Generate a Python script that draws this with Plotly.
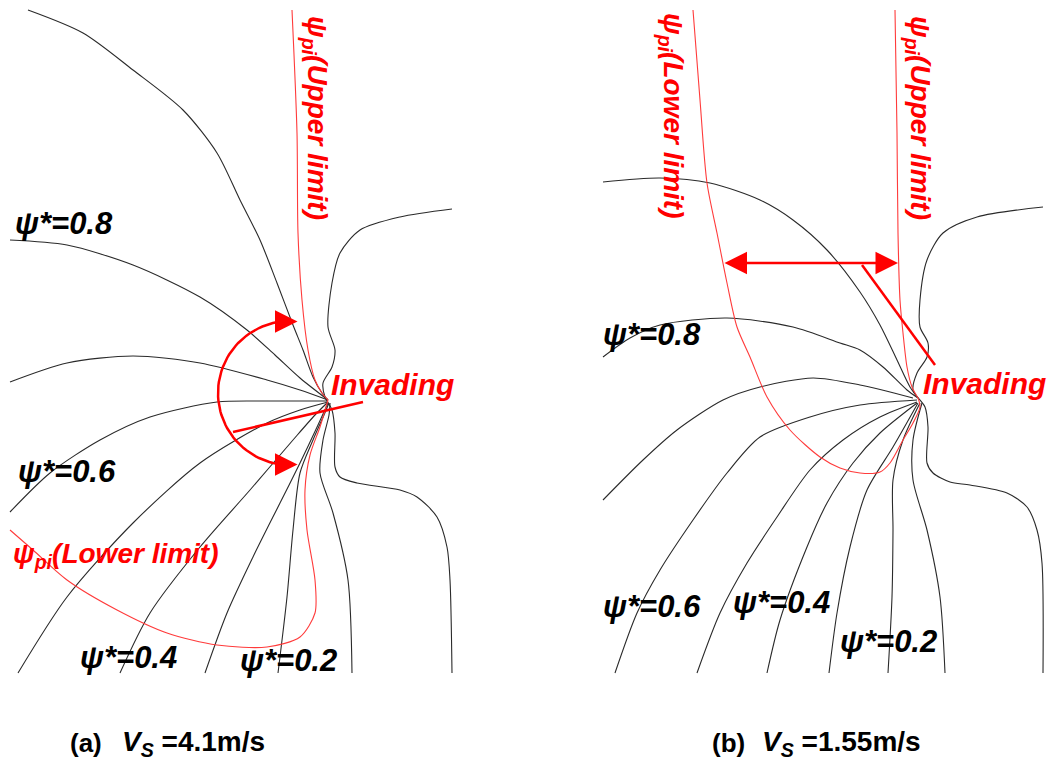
import math
import plotly.graph_objects as go

W, H = 1049, 762

# ---------------- panel (a)  Vs = 4.1 m/s ----------------
outer_a = [(28, 10), (83, 33), (133, 70), (183, 110), (217, 153), (240, 200), (260, 240),
           (277, 283), (293, 325), (303, 350), (313, 377), (322, 393), (328, 400)]
psi08_a = [(10, 240), (67, 245), (133, 265), (200, 297), (247, 330), (275, 355), (300, 378), (328, 400)]
c3_a = [(10, 382), (67, 363), (133, 356), (200, 363), (267, 380), (300, 390), (328, 400)]
c4_a = [(10, 512), (50, 473), (100, 440), (150, 417), (217, 402), (267, 401), (328, 401)]
c5_a = [(18, 673), (67, 597), (133, 523), (200, 463), (267, 423), (300, 410), (328, 402)]
c6_a = [(120, 673), (150, 613), (200, 547), (250, 490), (293, 440), (315, 415), (328, 402)]
c7_a = [(205, 673), (227, 613), (253, 557), (280, 503), (300, 463), (318, 425), (328, 403)]
c8_a = [(278, 673), (287, 597), (293, 530), (300, 473), (313, 440), (324, 415), (329, 403)]
c9_a = [(352, 673), (348, 580), (333, 513), (320, 473), (323, 440), (329, 415), (330, 403)]
wall_a = [(452, 209), (400, 217), (360, 230), (340, 253), (332, 283), (328, 327), (335, 350),
          (332, 367), (323, 383), (325, 397), (332, 410), (335, 433), (335, 467), (340, 477),
          (357, 483), (400, 490), (417, 497), (437, 517), (447, 547), (450, 580), (452, 673)]
upper_a = [(292, 10), (297, 133), (298, 233), (302, 300), (308, 350), (315, 380), (322, 393), (328, 400)]
lower_a = [(328, 400), (320, 427), (310, 455), (305, 490), (307, 530), (315, 580), (315, 613),
           (300, 637), (267, 647), (217, 645), (167, 633), (117, 610), (67, 580), (33, 550), (10, 530)]

# ---------------- panel (b)  Vs = 1.55 m/s ----------------
outer_b = [(603, 182), (660, 178), (710, 183), (760, 200), (793, 220), (827, 250), (860, 292),
           (880, 325), (897, 360), (910, 387), (918, 398)]
psi08_b = [(603, 357), (630, 338), (660, 325), (727, 318), (793, 327), (840, 343), (860, 350),
           (883, 367), (907, 390), (918, 398)]
c3_b = [(603, 500), (643, 460), (677, 430), (723, 400), (760, 387), (813, 378), (860, 385), (913, 398)]
c5_b = [(615, 673), (637, 613), (660, 570), (693, 520), (727, 473), (760, 437), (810, 417),
        (860, 405), (917, 400)]
c6_b = [(697, 673), (720, 613), (747, 563), (777, 517), (810, 470), (843, 440), (880, 417), (917, 402)]
c7_b = [(767, 673), (780, 620), (807, 547), (827, 503), (853, 463), (880, 433), (917, 403)]
c8_b = [(829, 673), (837, 613), (850, 547), (867, 490), (893, 447), (918, 403)]
c9_b = [(888, 673), (892, 597), (893, 530), (893, 480), (903, 440), (920, 403)]
c10_b = [(945, 673), (940, 597), (927, 530), (913, 480), (913, 440), (922, 403)]
wall_b = [(1043, 207), (977, 217), (943, 233), (927, 260), (920, 300), (920, 327), (928, 343),
          (927, 357), (917, 373), (913, 390), (925, 407), (928, 427), (927, 463), (933, 473),
          (950, 482), (970, 485), (1007, 493), (1027, 507), (1037, 530), (1042, 563), (1043, 673)]
lower_b = [(693, 10), (700, 100), (707, 183), (717, 233), (727, 283), (737, 327), (750, 357),
           (767, 397), (790, 430), (820, 457), (840, 468), (860, 473), (880, 472), (890, 463),
           (903, 440), (913, 423), (920, 407), (918, 398)]
upper_b = [(895, 10), (897, 133), (898, 233), (900, 300), (903, 333), (907, 367), (912, 387), (918, 398)]

BLACK_CURVES = [outer_a, psi08_a, c3_a, c4_a, c5_a, c6_a, c7_a, c8_a, c9_a, wall_a,
                outer_b, psi08_b, c3_b, c5_b, c6_b, c7_b, c8_b, c9_b, c10_b, wall_b]
RED_CURVES = [upper_a, lower_a, lower_b, upper_b]

# annotation geometry
arc_a = dict(cx=290, cy=393, r=72, a0=84, a1=276)
pointer_a = [(233, 432), (363, 402)]
pointer_b = [(862, 265), (935, 365)]
span_b = [(723, 263), (898, 263)]

fig = go.Figure()


def add_curve(pts, color, width, smooth=0.8):
    xs, ys = zip(*pts)
    fig.add_trace(go.Scatter(x=xs, y=ys, mode="lines",
                             line=dict(color=color, width=width, shape="spline", smoothing=smooth),
                             hoverinfo="skip", showlegend=False))


for c in BLACK_CURVES:
    add_curve(c, "#2a2a2a", 1.1)
for c in RED_CURVES:
    add_curve(c, "#ff3b3b", 1.1)

# arc of the double arrow in (a)
n = 60
angs = [arc_a["a0"] + 8 + (arc_a["a1"] - arc_a["a0"] - 16) * i / n for i in range(n + 1)]
ax_ = [arc_a["cx"] + arc_a["r"] * math.cos(math.radians(a)) for a in angs]
ay_ = [arc_a["cy"] - arc_a["r"] * math.sin(math.radians(a)) for a in angs]
fig.add_trace(go.Scatter(x=ax_, y=ay_, mode="lines", line=dict(color="red", width=2.5),
                         hoverinfo="skip", showlegend=False))
for pts in (pointer_a, pointer_b):
    xs, ys = zip(*pts)
    fig.add_trace(go.Scatter(x=xs, y=ys, mode="lines", line=dict(color="red", width=2.5),
                             hoverinfo="skip", showlegend=False))

ann = []


def arrow(tip, tail, side="end"):
    ann.append(dict(x=tip[0], y=tip[1], ax=tail[0], ay=tail[1], xref="x", yref="y",
                    axref="x", ayref="y", showarrow=True, arrowhead=2, arrowsize=1.8,
                    arrowwidth=2.5, arrowcolor="red", text="", arrowside=side,
                    standoff=0, startstandoff=0))


def on_arc(a):
    return (arc_a["cx"] + arc_a["r"] * math.cos(math.radians(a)),
            arc_a["cy"] - arc_a["r"] * math.sin(math.radians(a)))


arrow(on_arc(arc_a["a0"]), on_arc(arc_a["a0"] + 12))
arrow(on_arc(arc_a["a1"]), on_arc(arc_a["a1"] - 12))
ann.append(dict(x=span_b[1][0], y=span_b[1][1], ax=span_b[0][0], ay=span_b[0][1], xref="x", yref="y",
                axref="x", ayref="y", showarrow=True, arrowhead=2, startarrowhead=2, arrowsize=1.8,
                startarrowsize=1.8, arrowwidth=2.5, arrowcolor="red", text="", arrowside="end+start",
                standoff=0, startstandoff=0))

FONT = "Liberation Sans, Arial, sans-serif"


def label(x, y, text, color="black", size=31, xanchor="left", angle=0, yanchor="middle"):
    ann.append(dict(x=x, y=y, xref="x", yref="y", text=text, showarrow=False,
                    xanchor=xanchor, yanchor=yanchor, textangle=angle,
                    font=dict(family=FONT, size=size, color=color)))


psi = "<b><i>ψ*=%s</i></b>"
label(13, 223, psi % "0.8")
label(16, 471, psi % "0.6")
label(78, 657, psi % "0.4")
label(238, 660, psi % "0.2")
label(601, 334, psi % "0.8")
label(601, 606, psi % "0.6")
label(731, 602, psi % "0.4")
label(838, 641, psi % "0.2")

label(329, 384, "<b><i>Invading</i></b>", color="red", size=30)
label(921, 383, "<b><i>Invading</i></b>", color="red", size=30)

lim = "<b><i>ψ<sub>pi</sub>(%s limit)</i></b>"
label(11, 555, lim % "Lower", color="red", size=28)
label(316, 118, lim % "Upper", color="red", size=28, xanchor="center", angle=90)
label(919, 118, lim % "Upper", color="red", size=28, xanchor="center", angle=90)
label(672, 116, lim % "Lower", color="red", size=28, xanchor="center", angle=90)

label(68, 743, "<b>(a)</b>", size=26)
label(120, 743, "<b><i>V</i><sub><i>S</i></sub> =4.1m/s</b>", size=28)
label(710, 743, "<b>(b)</b>", size=26)
label(760, 743, "<b><i>V</i><sub><i>S</i></sub> =1.55m/s</b>", size=28)

fig.update_layout(width=W, height=H, margin=dict(l=0, r=0, t=0, b=0),
                  paper_bgcolor="white", plot_bgcolor="white", annotations=ann,
                  xaxis=dict(range=[0, W], visible=False, fixedrange=True),
                  yaxis=dict(range=[H, 0], visible=False, fixedrange=True))
fig.write_html("out.html")
